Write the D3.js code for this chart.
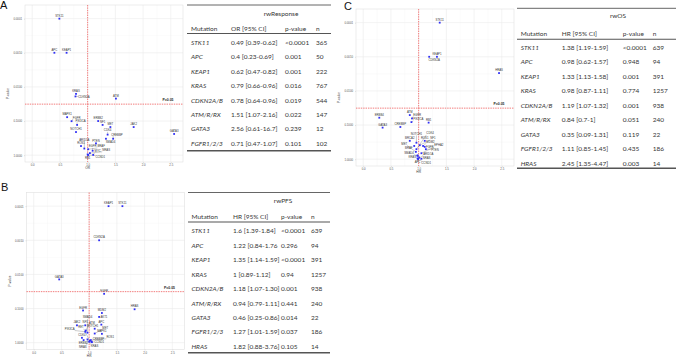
<!DOCTYPE html>
<html>
<head>
<meta charset="utf-8">
<script src="https://cdn.jsdelivr.net/npm/d3@7"></script>
<style>
  body { margin: 0; background: #fff; }
  svg { display: block; }
</style>
</head>
<body>
<svg id="fig" width="676" height="359"></svg>
<script>
// ---- table data ----
const tableGenes = ["STK11", "APC", "KEAP1", "KRAS", "CDKN2A/B", "ATM/R/RX", "GATA3", "FGFR1/2/3", "HRAS"];
const plotNames  = ["STK11", "APC", "KEAP1", "KRAS", "CDKN2A", "ATM", "GATA3", "FGFR", "HRAS"];

// rwResponse (no HRAS row)
const respOR = [0.49, 0.4, 0.62, 0.79, 0.78, 1.51, 2.56, 0.71];
const respCI = ["[0.39-0.62]", "[0.23-0.69]", "[0.47-0.82]", "[0.66-0.96]", "[0.64-0.96]", "[1.07-2.16]", "[0.61-16.7]", "[0.47-1.07]"];
const respP  = ["<0.0001", "0.001", "0.001", "0.016", "0.019", "0.022", "0.239", "0.101"];
const respN  = [365, 50, 222, 767, 544, 147, 12, 102];

// rwPFS
const pfsHR = [1.6, 1.22, 1.35, 1, 1.18, 0.94, 0.46, 1.27, 1.82];
const pfsCI = ["[1.39-1.84]", "[0.84-1.76", "[1.14-1.59]", "[0.89-1.12]", "[1.07-1.30]", "[0.79-1.11]", "[0.25-0.86]", "[1.01-1.59]", "[0.88-3.76]"];
const pfsP  = ["<0.0001", "0.296", "<0.0001", "0.94", "0.001", "0.441", "0.014", "0.037", "0.105"];
const pfsN  = [639, 94, 391, 1257, 938, 240, 22, 186, 14];

// rwOS
const osHR = [1.38, 0.98, 1.33, 0.98, 1.19, 0.84, 0.35, 1.11, 2.45];
const osCI = ["[1.19-1.59]", "[0.62-1.57]", "[1.13-1.58]", "[0.87-1.11]", "[1.07-1.32]", "[0.7-1]", "[0.09-1.31]", "[0.85-1.45]", "[1.35-4.47]"];
const osP  = ["<0.0001", "0.948", "0.001", "0.774", "0.001", "0.051", "0.119", "0.435", "0.003"];
const osN  = [639, 94, 391, 1257, 938, 240, 22, 186, 14];

// ---- other genes in the volcano plots ----
const respOtherGenes = ["MAPK1", "PIK3CA", "NOTCH1", "ERBB2", "NF1", "MET", "JAK2", "CDK4", "SMAD4", "CREBBP", "PTEN", "ROS1", "ARID1A", "BRAF", "EGFR", "NRAS", "RB1", "MYC", "CCND1"];
const respOtherOR    = [0.63, 0.81, 0.79, 1.19, 1.27, 1.41, 1.83, 1.36, 1.33, 1.46, 1.15, 0.88, 0.94, 1.01, 1.09, 1.04, 1.0, 1.1, 1.01];
const respOtherP     = [0.077, 0.13, 0.21, 0.10, 0.13, 0.15, 0.15, 0.25, 0.33, 0.33, 0.45, 0.54, 0.64, 0.67, 0.74, 0.87, 0.95, 0.98, 0.99];

const pfsOtherGenes = ["EGFR", "MDM2", "AKT1", "JAK2", "NF1", "NOTCH1", "SMAD4", "MET", "MAPK1", "CDK4", "NRAS", "ROS1", "RET", "CCND1", "CREBBP", "ERBB2", "PIK3CA"];
const pfsOtherHR    = [0.89, 1.23, 1.18, 0.78, 0.93, 1.10, 0.97, 1.10, 1.23, 0.87, 0.97, 1.03, 1.01, 1.04, 1.05, 0.90, 0.93];
const pfsOtherP     = [0.114, 0.135, 0.176, 0.31, 0.31, 0.39, 0.51, 0.54, 0.55, 0.72, 0.80, 0.84, 0.89, 0.95, 0.97, 0.84, 0.48];

const osOtherGenes = ["ERBB4", "EGFR", "PIK3CA", "CREBBP", "RB1", "BRCA2", "NOTCH1", "ROS1", "BRAF", "MDM2", "NF1", "CDK4", "PTEN", "MET", "EPHA2", "SMAD4", "CCND1", "ARID1A", "NRAS"];
const osOtherHR    = [0.29, 0.88, 0.87, 0.67, 1.18, 0.84, 0.96, 1.11, 0.92, 1.08, 1.02, 0.96, 1.13, 0.95, 1.05, 0.98, 1.01, 0.99, 1.05];
const osOtherP     = [0.061, 0.064, 0.082, 0.114, 0.085, 0.29, 0.33, 0.29, 0.41, 0.41, 0.39, 0.51, 0.51, 0.61, 0.67, 0.80, 0.89, 0.99, 0.97];

// ---- axis ticks ----
const xTicks = [0, 0.5, 1, 1.5, 2, 2.5];
const yTicks = [1, 0.1, 0.01, 0.001, 0.0001];
const xDomain = [-0.13, 2.72];
const pDomain = [Math.pow(10, 0.2), Math.pow(10, -4.4)];
const cutLineP = 0.032;   // where the dashed "P=0.05" line sits in the picture

const parseP = s => s.startsWith("<") ? +s.slice(1) : +s;

const svg = d3.select("#fig");
const plotFont = "Liberation Sans, Arial, sans-serif";
const tableFont = "Lato, 'Open Sans', sans-serif";

// greedy label placement: try spots around each point, keep the first free one
function placeLabels(nodes, anchors, box) {
  const placed = [];
  const hits = (cx, cy, n) => {
    const l = cx - n.w / 2, r = cx + n.w / 2, t = cy - n.h / 2, b = cy + n.h / 2;
    if (l < box.l + 0.8 || r > box.r - 0.8 || t < box.t + 0.8 || b > box.b - 0.8) return true;
    for (const q of placed) {
      if (l < q.x + q.w / 2 + 0.4 && r > q.x - q.w / 2 - 0.4 &&
          t < q.y + q.h / 2 + 0.15 && b > q.y - q.h / 2 - 0.15) return true;
    }
    for (const p of anchors) {
      if (l < p.x + 1.1 && r > p.x - 1.1 && t < p.y + 1.1 && b > p.y - 1.1) return true;
    }
    return false;
  };
  const angles = [-90, -60, -120, -30, -150, 0, 180, 30, 150, 60, 120, 90];
  const radii = [0, 1.5, 3, 4.5, 6, 8, 10, 12.5, 15, 18, 22, 26];
  const crowd = nodes.map(n => anchors.filter(p => Math.hypot(p.x - n.ax, p.y - n.ay) < 12).length);
  const order = nodes.map((n, i) => i).sort((a, b) => crowd[a] - crowd[b]);
  order.forEach(i => {
    const n = nodes[i];
    let done = false;
    for (const r of radii) {
      for (const a of angles) {
        const rad = a * Math.PI / 180;
        const cx = n.ax + Math.cos(rad) * (r * 1.6 + (Math.abs(Math.cos(rad)) > 0.3 ? n.w / 2 * Math.sign(Math.cos(rad)) * 0.9 : 0));
        const cy = n.ay - 2.8 + Math.sin(rad) * r + (a > 0 && a < 180 ? 3.6 * Math.sin(rad) : 0);
        if (!hits(cx, cy, n)) { n.x = cx; n.y = cy; done = true; break; }
        if (r === 0) break;
      }
      if (done) break;
    }
    if (!done) { n.x = n.ax; n.y = n.ay - 2.8; }
    placed.push(n);
  });
}

function drawPlot(cfg, pts) {
  const g = svg.append("g");
  const x = d3.scaleLinear().domain(xDomain).range([cfg.l, cfg.r]);
  const y = d3.scaleLog().domain(pDomain).range([cfg.b, cfg.t]);

  // minor grid
  const xMinor = [-0.25, 0.25, 0.75, 1.25, 1.75, 2.25, 2.75].filter(v => v > xDomain[0] && v < xDomain[1]);
  const yMinor = [0.5, 1.5, 2.5, 3.5].map(v => Math.pow(10, -v));
  g.selectAll(".xm").data(xMinor).join("line")
    .attr("x1", d => x(d)).attr("x2", d => x(d)).attr("y1", cfg.t).attr("y2", cfg.b)
    .attr("stroke", "#f4f4f4").attr("stroke-width", 0.4);
  g.selectAll(".ym").data(yMinor).join("line")
    .attr("y1", d => y(d)).attr("y2", d => y(d)).attr("x1", cfg.l).attr("x2", cfg.r)
    .attr("stroke", "#f4f4f4").attr("stroke-width", 0.4);
  // major grid
  g.selectAll(".xg").data(xTicks).join("line")
    .attr("x1", d => x(d)).attr("x2", d => x(d)).attr("y1", cfg.t).attr("y2", cfg.b)
    .attr("stroke", "#ebebeb").attr("stroke-width", 0.6);
  g.selectAll(".yg").data(yTicks).join("line")
    .attr("y1", d => y(d)).attr("y2", d => y(d)).attr("x1", cfg.l).attr("x2", cfg.r)
    .attr("stroke", "#ebebeb").attr("stroke-width", 0.6);
  g.append("rect")
    .attr("x", cfg.l).attr("y", cfg.t).attr("width", cfg.r - cfg.l).attr("height", cfg.b - cfg.t)
    .attr("fill", "none").attr("stroke", "#e0e0e0").attr("stroke-width", 0.6);

  // axes
  const xAxis = g.append("g").attr("transform", `translate(0,${cfg.b})`)
    .call(d3.axisBottom(x).tickValues(xTicks).tickFormat(d3.format(".1f")).tickSize(1).tickPadding(1.5));
  const yAxis = g.append("g").attr("transform", `translate(${cfg.l},0)`)
    .call(d3.axisLeft(y).tickValues(yTicks).tickFormat(d3.format(".4f")).tickSize(1).tickPadding(2));
  [xAxis, yAxis].forEach(a => {
    a.select(".domain").remove();
    a.selectAll("line").attr("stroke", "#bbb").attr("stroke-width", 0.4);
    a.selectAll("text").attr("font-size", 2.8).attr("fill", "#555").attr("font-family", plotFont);
  });

  g.append("text").attr("x", x(1)).attr("y", cfg.b + 7).attr("text-anchor", "middle")
    .attr("font-size", 3.2).attr("font-family", plotFont).attr("fill", "#333").text(cfg.xTitle);
  g.append("text").attr("transform", `translate(${cfg.l - 16},${(cfg.t + cfg.b) / 2 + 10}) rotate(-90)`)
    .attr("text-anchor", "middle").attr("font-size", 3.2).attr("font-family", plotFont)
    .attr("fill", "#333").text("P-value");

  // threshold lines
  g.append("line").attr("x1", x(1)).attr("x2", x(1)).attr("y1", cfg.t).attr("y2", cfg.b)
    .attr("stroke", "#f25c5c").attr("stroke-width", 0.8).attr("stroke-dasharray", "1.4,1");
  g.append("line").attr("x1", cfg.l).attr("x2", cfg.r).attr("y1", y(cutLineP)).attr("y2", y(cutLineP))
    .attr("stroke", "#f25c5c").attr("stroke-width", 0.8).attr("stroke-dasharray", "1.4,1");
  g.append("text").attr("x", x(2.45)).attr("y", y(cutLineP) - 3).attr("text-anchor", "middle")
    .attr("font-size", 3.4).attr("font-weight", "bold").attr("font-family", plotFont)
    .attr("fill", "#222").text("P=0.05");

  // labels: draw, measure, then place
  const fs = 2.8;
  const anchors = pts.map(p => ({ x: x(p.v), y: y(p.p) }));
  const segs = g.append("g");
  const labels = g.append("g").selectAll("text").data(pts).join("text")
    .attr("text-anchor", "middle").attr("dy", "0.35em")
    .attr("font-size", fs).attr("font-family", plotFont)
    .attr("fill", "#333").text(d => d.gene);
  const nodes = [];
  labels.each(function (d, i) {
    nodes.push({ ax: anchors[i].x, ay: anchors[i].y, w: this.getComputedTextLength(), h: fs + 0.2 });
  });
  placeLabels(nodes, anchors, cfg);
  labels.attr("x", (d, i) => nodes[i].x).attr("y", (d, i) => nodes[i].y);

  nodes.forEach(n => {
    const cx = Math.max(n.x - n.w / 2, Math.min(n.x + n.w / 2, n.ax));
    const cy = Math.max(n.y - n.h / 2, Math.min(n.y + n.h / 2, n.ay));
    if (Math.hypot(cx - n.ax, cy - n.ay) > 1.8) {
      segs.append("line").attr("x1", n.ax).attr("y1", n.ay).attr("x2", cx).attr("y2", cy)
        .attr("stroke", "#555").attr("stroke-width", 0.3);
    }
  });

  g.append("g").selectAll("rect").data(pts).join("rect")
    .attr("x", d => x(d.v) - 0.9).attr("y", d => y(d.p) - 0.9)
    .attr("width", 1.8).attr("height", 1.8).attr("fill", "#2f2ff5");
}

function drawTable(t, rows) {
  const fs = 6.5;
  const g = svg.append("g").attr("font-family", tableFont).attr("fill", "#363636");
  g.append("line").attr("x1", t.l).attr("x2", t.r).attr("y1", t.top).attr("y2", t.top)
    .attr("stroke", "#555").attr("stroke-width", 0.9);
  g.append("text").attr("x", t.titleX).attr("y", t.titleY).attr("dy", "0.35em")
    .attr("text-anchor", "middle").attr("font-size", fs).text(t.title);
  const heads = ["Mutation", t.est + " [95% CI]", "p-value", "n"];
  g.selectAll(".hd").data(heads).join("text")
    .attr("x", (d, i) => t.cols[i]).attr("y", t.headY).attr("dy", "0.35em")
    .attr("font-size", fs).text(d => d);
  g.append("line").attr("x1", t.l).attr("x2", t.r).attr("y1", t.headLine).attr("y2", t.headLine)
    .attr("stroke", "#555").attr("stroke-width", 1.1);
  rows.forEach((r, i) => {
    const yy = t.row0 + i * t.rowStep;
    r.forEach((c, j) => {
      g.append("text").attr("x", t.cols[j]).attr("y", yy).attr("dy", "0.35em")
        .attr("font-size", fs).attr("font-style", j === 0 ? "italic" : "normal").text(c);
    });
  });
  g.append("line").attr("x1", t.l).attr("x2", t.r).attr("y1", t.bottom).attr("y2", t.bottom)
    .attr("stroke", "#555").attr("stroke-width", 1.4);
}

function panelLetter(txt, x, y) {
  svg.append("text").attr("x", x).attr("y", y).attr("font-size", 11)
    .attr("font-family", plotFont).attr("fill", "#111").text(txt);
}

function buildPoints(est, pStr, otherGenes, otherEst, otherP) {
  const pts = est.map((v, i) => ({ gene: plotNames[i], v: v, p: parseP(pStr[i]) }));
  otherGenes.forEach((gname, i) => pts.push({ gene: gname, v: otherEst[i], p: otherP[i] }));
  return pts;
}

function buildRows(est, ci, pStr, n) {
  return est.map((v, i) => [tableGenes[i], v + " " + ci[i], pStr[i], String(n[i])]);
}

// ---- panel A ----
panelLetter("A", 0, 9);
drawPlot({ l: 25, r: 183, t: 5, b: 162, xTitle: "OR" },
  buildPoints(respOR, respP, respOtherGenes, respOtherOR, respOtherP));
drawTable({ l: 187, r: 331, top: 5, title: "rwResponse", titleX: 281, titleY: 14, est: "OR",
  headY: 28.3, headLine: 33.5, row0: 42.7, rowStep: 14.4, bottom: 150.7, cols: [191, 231, 285, 316] },
  buildRows(respOR, respCI, respP, respN));

// ---- panel B ----
panelLetter("B", 1, 191);
drawPlot({ l: 26.5, r: 184.5, t: 192.5, b: 349.5, xTitle: "HR" },
  buildPoints(pfsHR, pfsP, pfsOtherGenes, pfsOtherHR, pfsOtherP));
drawTable({ l: 188, r: 330, top: 192.5, title: "rwPFS", titleX: 283, titleY: 201, est: "HR",
  headY: 216.5, headLine: 222, row0: 231, rowStep: 14.45, bottom: 352.7, cols: [191.5, 233, 281, 311] },
  buildRows(pfsHR, pfsCI, pfsP, pfsN));

// ---- panel C ----
panelLetter("C", 344, 10);
drawPlot({ l: 356, r: 514, t: 9, b: 166, xTitle: "HR" },
  buildPoints(osHR, osP, osOtherGenes, osOtherHR, osOtherP));
drawTable({ l: 517, r: 676, top: 8.3, title: "rwOS", titleX: 618, titleY: 15.5, est: "HR",
  headY: 33.3, headLine: 39.3, row0: 47.7, rowStep: 14.45, bottom: 168.3, cols: [520.7, 561.7, 622.7, 652.7] },
  buildRows(osHR, osCI, osP, osN));
</script>
</body>
</html>
